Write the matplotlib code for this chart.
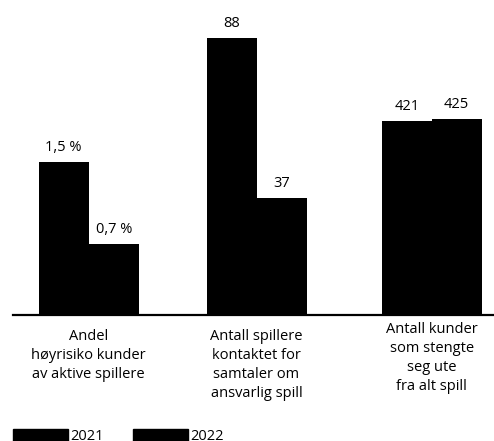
import matplotlib
matplotlib.use("Agg")
import matplotlib.pyplot as plt
from matplotlib.patches import Patch

plt.rcParams['font.family'] = ['Open Sans', 'DejaVu Sans']

categories = ["Andel\nhøyrisiko kunder\nav aktive spillere",
              "Antall spillere\nkontaktet for\nsamtaler om\nansvarlig spill",
              "Antall kunder\nsom stengte\nseg ute\nfra alt spill"]
years = ["2021", "2022"]
values_2021 = [1.5, 88, 421]
values_2022 = [0.7, 37, 425]
labels_2021 = ["1,5 %", "88", "421"]
labels_2022 = ["0,7 %", "37", "425"]

# each group has its own scale in the original
y_tops = [2.9, 93.6, 640]
centers_px = [88.7, 256.5, 431.7]
label_pad = [10, 10, 5]

W, H = 494, 441
fig = plt.figure(figsize=(W / 100, H / 100), dpi=100)
bottom = (H - 315) / H
height = 295 / H

# base axis, just the baseline
base = fig.add_axes([13 / W, bottom, (W - 13) / W, height])
base.set_xticks([])
base.set_yticks([])
for s in ['top', 'left', 'right']:
    base.spines[s].set_visible(False)
base.spines['bottom'].set_linewidth(1.6)
base.patch.set_alpha(0)

for i in range(3):
    ax = fig.add_axes([(centers_px[i] - 60) / W, bottom, 120 / W, height])
    ax.set_xlim(-1.2, 1.2)
    ax.set_ylim(0, y_tops[i])
    b1 = ax.bar(-0.5, values_2021[i], width=1, color='black')
    b2 = ax.bar(0.5, values_2022[i], width=1, color='black')
    ax.bar_label(b1, labels=[labels_2021[i]], padding=5, fontsize=10.5)
    ax.bar_label(b2, labels=[labels_2022[i]], padding=5, fontsize=10.5)
    ax.axis('off')
    ax.annotate(categories[i], xy=(0, 0), xycoords=('data', 'axes fraction'),
                xytext=(0, -label_pad[i]), textcoords='offset points',
                ha='center', va='top', fontsize=10.5, linespacing=1.37,
                annotation_clip=False)

handles = [Patch(color='black', label=y) for y in years]
fig.legend(handles=handles, loc='upper left', bbox_to_anchor=(13 / W, (H - 429) / H),
           ncol=2, frameon=False, borderpad=0, borderaxespad=0,
           handlelength=3.8, handleheight=0.8, handletextpad=0.15,
           columnspacing=1.95, fontsize=10.5)

fig.savefig("out.png", dpi=100)
